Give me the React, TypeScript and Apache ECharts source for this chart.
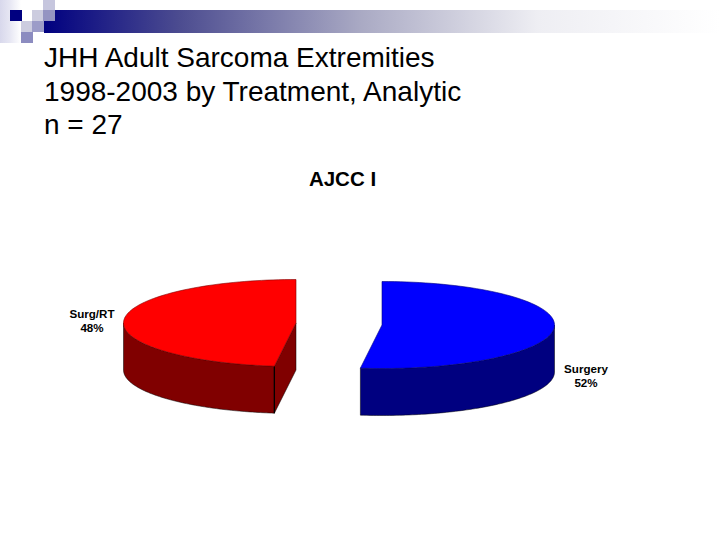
import React, { useEffect, useRef } from "react";
import * as echarts from "echarts";

const titleLines = ["JHH Adult Sarcoma Extremities", "1998-2003 by Treatment, Analytic", "n = 27"];
const chartTitle = "AJCC I";
const categories = ["Surgery", "Surg/RT"];
const values = [52, 48];
const topColors = ["#0000ff", "#ff0000"];
const sideColors = ["#000080", "#800000"];
const centers = [[382, 325], [296, 323]];
const labelAnchors = [[586, 375], [92, 320.5]];
const RX = 172.5;
const RY = 43.5;
const DEPTH = 47;
const FONT = '"Liberation Sans", Arial, sans-serif';

const squares: [number, number, number, number, string][] = [
  [43, 0, 12, 10, "#c6c6de"],
  [10, 10, 12, 11, "#000080"],
  [32, 10, 11, 11, "#ccccdf"],
  [43, 10, 12, 11, "#9494c2"],
  [21, 21, 11, 11, "#ccccdf"],
  [32, 21, 12, 11, "#9c9cc8"],
  [21, 32, 12, 11, "#8c8cc0"],
];

export default function App() {
  const ref = useRef<HTMLDivElement>(null);
  useEffect(() => {
    const chart = echarts.init(ref.current!, undefined, { renderer: "svg" });
    const total = values.reduce((a, b) => a + b, 0);
    const renderItem = (params: any, api: any) => {
      const i = params.dataIndex;
      const before = values.slice(0, i).reduce((a, b) => a + b, 0);
      const a0 = (before / total) * Math.PI * 2;
      const a1 = ((before + (api.value(0) as number)) / total) * Math.PI * 2;
      const [cx, cy] = centers[i];
      const at = (a: number) => [cx + RX * Math.sin(a), cy - RY * Math.cos(a)];
      const arc = (from: number, to: number) => {
        const pts: number[][] = [];
        const n = 90;
        for (let k = 0; k <= n; k++) pts.push(at(from + ((to - from) * k) / n));
        return pts;
      };
      const children: any[] = [];
      const wFrom = Math.max(a0, Math.PI / 2);
      const wTo = Math.min(a1, (Math.PI * 3) / 2);
      const wall = arc(wFrom, wTo);
      children.push({
        type: "polygon",
        shape: { points: [...wall, ...wall.slice().reverse().map((p) => [p[0], p[1] + DEPTH])] },
        style: { fill: sideColors[i], stroke: "#000", lineWidth: 0.5 },
      });
      if (a0 > Math.PI / 2 && i > 0) {
        const p = at(a0);
        children.push({
          type: "polygon",
          shape: { points: [p, [cx, cy], [cx, cy + DEPTH], [p[0], p[1] + DEPTH]] },
          style: { fill: sideColors[i], stroke: "#000", lineWidth: 0.5 },
        });
        children.push({
          type: "line",
          shape: { x1: p[0], y1: p[1], x2: p[0], y2: p[1] + DEPTH },
          style: { stroke: "#000", lineWidth: 1.2 },
        });
      }
      children.push({
        type: "polygon",
        shape: { points: [[cx, cy], ...arc(a0, a1)] },
        style: { fill: topColors[i], stroke: sideColors[i], lineWidth: 0.6 },
      });
      const pct = Math.round(((api.value(0) as number) / total) * 100);
      children.push({
        type: "text",
        style: {
          x: labelAnchors[i][0],
          y: labelAnchors[i][1],
          text: `${categories[i]}\n${pct}%`,
          fill: "#000",
          font: `bold 11.6px ${FONT}`,
          align: "center",
          verticalAlign: "middle",
          lineHeight: 14,
        },
      });
      return { type: "group", children };
    };
    chart.setOption({
      animation: false,
      backgroundColor: "#fff",
      graphic: [
        {
          type: "rect",
          silent: true,
          shape: { x: 44, y: 10, width: 676, height: 23 },
          style: {
            fill: new echarts.graphic.LinearGradient(0, 0, 1, 0, [
              { offset: 0, color: "#000080" },
              { offset: 0.2, color: "#4c4c90" },
              { offset: 0.47, color: "#aaaac4" },
              { offset: 0.73, color: "#eeeef3" },
              { offset: 1, color: "#ffffff" },
            ]),
          },
        },
        {
          type: "rect",
          silent: true,
          shape: { x: 0, y: 0, width: 21, height: 43 },
          style: {
            fill: new echarts.graphic.LinearGradient(0, 0, 1, 0, [
              { offset: 0, color: "#d8d8ec" },
              { offset: 0.45, color: "#e6e6f3" },
              { offset: 1, color: "#ffffff" },
            ]),
          },
        },
        ...squares.map(([x, y, width, height, fill]) => ({
          type: "rect",
          silent: true,
          shape: { x, y, width, height },
          style: { fill },
        })),
        ...titleLines.map((text, i) => ({
          type: "text",
          silent: true,
          style: { x: 44, y: 57.5 + i * 33.5, text, fill: "#000", font: `28px ${FONT}`, align: "left", verticalAlign: "middle" },
        })),
        {
          type: "text",
          silent: true,
          style: { x: 342.5, y: 178, text: chartTitle, fill: "#000", font: `bold 20.5px ${FONT}`, align: "center", verticalAlign: "middle" },
        },
      ],
      series: [
        {
          type: "custom",
          coordinateSystem: "none",
          renderItem,
          data: categories.map((name, i) => ({ name, value: [values[i]] })),
        },
      ],
    });
    return () => chart.dispose();
  }, []);
  return <div ref={ref} style={{ position: "fixed", left: 0, top: 0, width: 720, height: 540 }} />;
}
